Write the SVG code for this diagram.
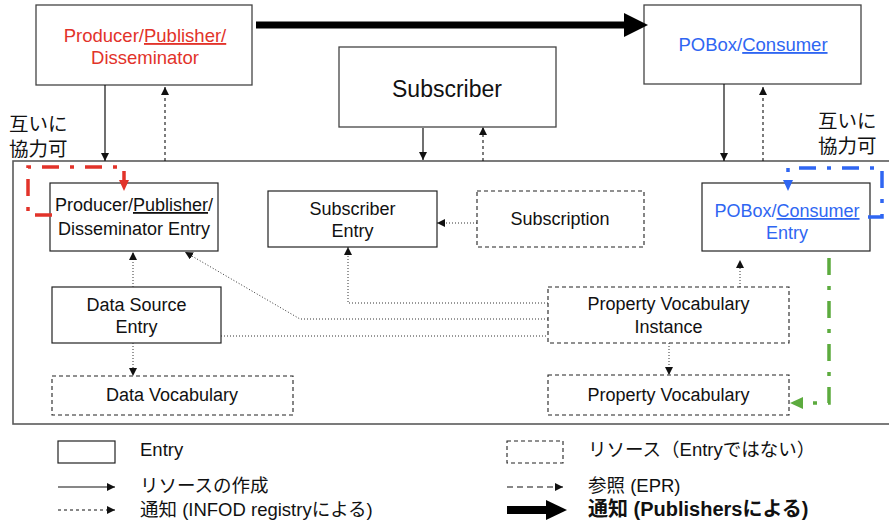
<svg xmlns="http://www.w3.org/2000/svg" width="889" height="522" viewBox="0 0 889 522">
  <style>
    text { font-family: "Liberation Sans", Arial, "Noto Sans CJK JP", sans-serif; fill: #111; }
    .lbl { font-size: 18px; text-anchor: middle; }
    .top { font-size: 18.5px; text-anchor: middle; }
    .jp { font-size: 19.5px; }
    .leg { font-size: 18.5px; }
    .red { fill: #e2332a; }
    .blue { fill: #2f66f2; }
    .box { fill: #fff; stroke: #222; stroke-width: 1.2; }
    .topbox { fill: #fff; stroke: #444; stroke-width: 1.3; }
    .res { fill: #fff; stroke: #222; stroke-width: 1.1; stroke-dasharray: 4 3; }
    .solid { stroke: #111; stroke-width: 1.2; fill: none; }
    .dash { stroke: #111; stroke-width: 1.1; fill: none; stroke-dasharray: 3 3; }
    .dot { stroke: #333; stroke-width: 1; fill: none; stroke-dasharray: 1 2; }
    .coop { fill: none; stroke-width: 3.5; stroke-dasharray: 17 11 4 11; }
  </style>
  <defs>
    <marker id="ah" viewBox="0 0 10 10" refX="10" refY="5" markerWidth="8" markerHeight="8" markerUnits="userSpaceOnUse" orient="auto">
      <path d="M0,0 L10,5 L0,10 z" fill="#111"/>
    </marker>
  </defs>

  <!-- registry frame -->
  <rect x="13" y="161" width="890" height="263" fill="none" stroke="#5a5a5a" stroke-width="1.6"/>

  <!-- top-level actors -->
  <g id="producer">
    <rect class="topbox" x="36" y="5" width="216" height="80"/>
    <text class="top red" x="145" y="42">Producer/<tspan text-decoration="underline">Publisher/</tspan></text>
    <text class="top red" x="145" y="64">Disseminator</text>
  </g>
  <g id="subscriber">
    <rect class="topbox" x="339" y="47" width="217" height="80"/>
    <text x="447" y="97" style="font-size:23px;text-anchor:middle">Subscriber</text>
  </g>
  <g id="pobox">
    <rect class="topbox" x="644" y="5" width="217" height="79"/>
    <text class="top blue" x="753" y="51">POBox/<tspan text-decoration="underline">Consumer</tspan></text>
  </g>

  <!-- cooperation notes -->
  <g id="note-left">
    <text class="jp" x="9" y="131">互いに</text>
    <text class="jp" x="9" y="156">協力可</text>
  </g>
  <g id="note-right">
    <text class="jp" x="818" y="128">互いに</text>
    <text class="jp" x="818" y="153">協力可</text>
  </g>

  <!-- registry entries and resources -->
  <g id="producer-entry">
    <rect class="box" x="50" y="183" width="168" height="68"/>
    <text class="lbl" x="134" y="211">Producer/<tspan text-decoration="underline">Publisher</tspan>/</text>
    <text class="lbl" x="134" y="235">Disseminator Entry</text>
  </g>
  <g id="subscriber-entry">
    <rect class="box" x="268" y="191" width="169" height="56"/>
    <text class="lbl" x="352.5" y="215">Subscriber</text>
    <text class="lbl" x="352.5" y="237">Entry</text>
  </g>
  <g id="subscription">
    <rect class="res" x="477" y="191" width="167" height="56"/>
    <text class="lbl" x="560" y="225">Subscription</text>
  </g>
  <g id="pobox-entry">
    <rect class="box" x="702" y="183" width="168" height="68"/>
    <text class="lbl blue" x="787" y="217">POBox/<tspan text-decoration="underline">Consumer</tspan></text>
    <text class="lbl blue" x="787" y="239">Entry</text>
  </g>
  <g id="data-source-entry">
    <rect class="box" x="52" y="287" width="169" height="56"/>
    <text class="lbl" x="136.5" y="311">Data Source</text>
    <text class="lbl" x="136.5" y="333">Entry</text>
  </g>
  <g id="data-vocabulary">
    <rect class="res" x="52" y="376" width="241" height="39"/>
    <text class="lbl" x="172" y="401">Data Vocabulary</text>
  </g>
  <g id="property-vocabulary-instance">
    <rect class="res" x="548" y="287" width="241" height="56"/>
    <text class="lbl" x="668.5" y="310">Property Vocabulary</text>
    <text class="lbl" x="668.5" y="333">Instance</text>
  </g>
  <g id="property-vocabulary">
    <rect class="res" x="548" y="375" width="241" height="40"/>
    <text class="lbl" x="668.5" y="401">Property Vocabulary</text>
  </g>

  <!-- connectors -->
  <g id="connectors">
    <!-- publisher notification -->
    <line x1="256" y1="25" x2="626" y2="25" stroke="#000" stroke-width="7"/>
    <polygon points="624,13 648,25 624,37" fill="#000"/>

    <!-- actor <-> registry -->
    <line class="solid" x1="105" y1="85" x2="105" y2="161" marker-end="url(#ah)"/>
    <line class="dash" x1="165" y1="161" x2="165" y2="87" marker-end="url(#ah)"/>
    <line class="solid" x1="423" y1="128" x2="423" y2="160" marker-end="url(#ah)"/>
    <line class="dash" x1="483" y1="161" x2="483" y2="127" marker-end="url(#ah)"/>
    <line class="solid" x1="724" y1="84" x2="724" y2="161" marker-end="url(#ah)"/>
    <line class="dash" x1="763" y1="161" x2="763" y2="87" marker-end="url(#ah)"/>

    <!-- references between registry items -->
    <line class="dot" x1="133" y1="287" x2="133" y2="252" marker-end="url(#ah)"/>
    <line class="dot" x1="133" y1="343" x2="133" y2="376" marker-end="url(#ah)"/>
    <line class="dot" x1="477" y1="223" x2="437" y2="223" marker-end="url(#ah)"/>
    <polyline class="dot" points="548,303 348,303 348,247" marker-end="url(#ah)"/>
    <polyline class="dot" points="548,319 300,319 185,252" marker-end="url(#ah)"/>
    <line class="dot" x1="221" y1="336" x2="548" y2="336"/>
    <line class="dot" x1="740" y1="287" x2="740" y2="260" marker-end="url(#ah)"/>
    <line class="dot" x1="669" y1="343" x2="669" y2="375" marker-end="url(#ah)"/>

    <!-- cooperation paths -->
    <path class="coop" stroke="#e2332a" d="M52,215 H28 V167 H124 V181"/>
    <polygon points="119,180 129,180 124,191" fill="#e2332a"/>
    <path class="coop" stroke="#2f66f2" d="M868,217 H882 V168 H788 V181"/>
    <polygon points="783,180 793,180 788,191" fill="#2f66f2"/>
    <path class="coop" stroke="#5cab3e" d="M829,258 V403 H805"/>
    <polygon points="803,397 803,409 790,403" fill="#5cab3e"/>
  </g>

  <!-- legend -->
  <g id="legend">
    <rect class="box" x="58" y="441" width="57" height="22"/>
    <text class="leg" x="140" y="456">Entry</text>
    <line class="solid" x1="58" y1="487" x2="115" y2="487" marker-end="url(#ah)"/>
    <text class="leg" x="140" y="492">リソースの作成</text>
    <line class="dash" x1="58" y1="510" x2="115" y2="510" marker-end="url(#ah)"/>
    <text class="leg" x="140" y="516">通知 (INFOD registryによる)</text>

    <rect class="res" x="507" y="441" width="56" height="22"/>
    <text class="leg" x="588" y="456">リソース（Entryではない）</text>
    <line x1="507" y1="487" x2="563" y2="487" stroke="#111" stroke-width="1.1" stroke-dasharray="6 4" marker-end="url(#ah)"/>
    <text class="leg" x="588" y="492">参照 (EPR)</text>
    <line x1="507" y1="510" x2="548" y2="510" stroke="#000" stroke-width="8"/>
    <polygon points="546,500 567,510 546,520" fill="#000"/>
    <text x="588" y="516" font-weight="bold" style="font-size:20px">通知 (Publishersによる)</text>
  </g>
</svg>
